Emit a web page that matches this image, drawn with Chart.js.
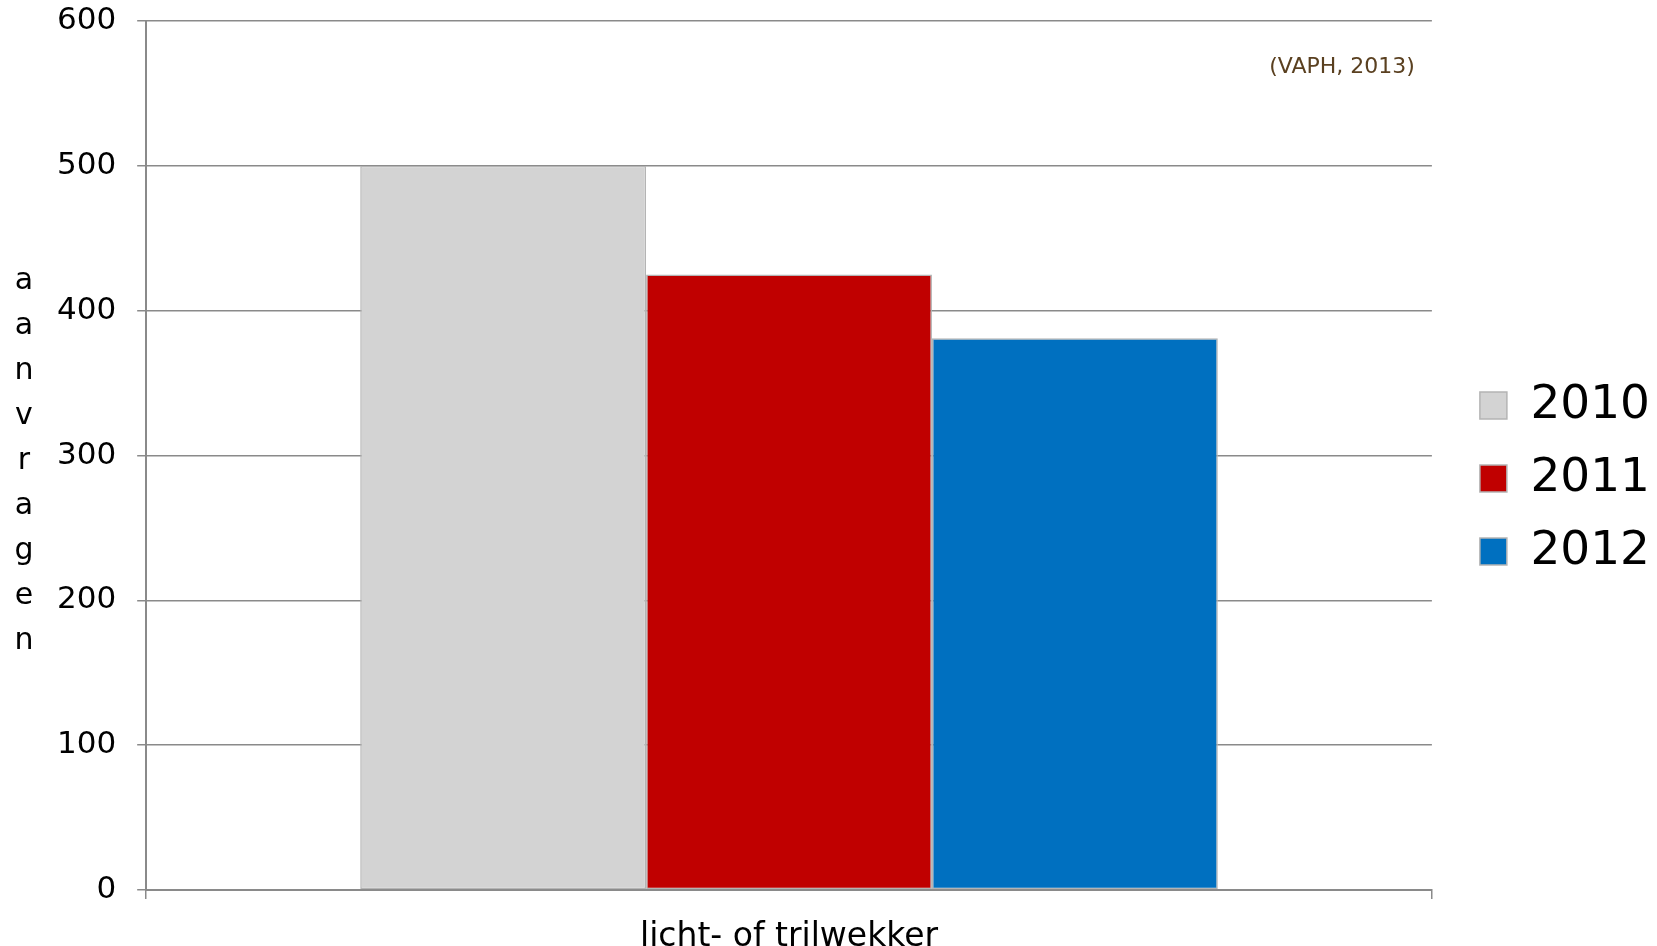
<!DOCTYPE html>
<html>
<head>
<meta charset="utf-8">
<script src="https://cdn.jsdelivr.net/npm/chart.js@4/dist/chart.umd.min.js"></script>
<style>
  html, body { margin: 0; padding: 0; background: #fff; }
  #wrap { width: 1657px; height: 946px; }
</style>
</head>
<body>
<div id="wrap"><canvas id="myChart" width="1657" height="946"></canvas></div>
<script>
const categories = ["licht- of trilwekker"];
const years = ["2010", "2011", "2012"];
const values2010 = [500];
const values2011 = [425];
const values2012 = [381];
const yTicks = [0, 100, 200, 300, 400, 500, 600];
const yTitle = "aanvragen";
const sourceNote = "(VAPH, 2013)";

const ctx = document.getElementById("myChart").getContext("2d");
const FONT = "'DejaVu Sans', Verdana, sans-serif";
const gridGray = "#8a8a8a";

// vertical y title and source note
const extraText = {
  id: "extraText",
  afterLayout(chart) {
    // nudge the legend to where the original has it
    chart.legend.left += 22;
    chart.legend.right += 22;
    chart.legend.top -= 5;
    chart.legend.bottom -= 5;
  },
  afterDraw(chart) {
    const c = chart.ctx;
    c.save();
    c.fillStyle = "#000";
    c.font = "30px " + FONT;
    c.textAlign = "center";
    c.textBaseline = "middle";
    const letters = yTitle.split("");
    letters.forEach((ch, i) => {
      c.fillText(ch, 24, 281 + i * 45);
    });
    c.fillStyle = "#5a4020";
    c.font = "22px " + FONT;
    c.textAlign = "right";
    c.fillText(sourceNote, chart.chartArea.right - 17, 67);
    c.restore();
  },
};

const data = {
  labels: categories,
  datasets: [
    { label: years[0], data: values2010, backgroundColor: "#d3d3d3" },
    { label: years[1], data: values2011, backgroundColor: "#c00000" },
    { label: years[2], data: values2012, backgroundColor: "#0070c0" },
  ].map((d) => ({
    ...d,
    borderColor: "#b4b4b4",
    borderWidth: 1.5,
    borderSkipped: false,
    categoryPercentage: 0.667,
    barPercentage: 1,
  })),
};

const config = {
  type: "bar",
  data: data,
  options: {
    responsive: false,
    animation: false,
    layout: {
      padding: { left: 36, top: 21, right: 19, bottom: 0 },
    },
    plugins: {
      legend: {
        position: "right",
        labels: {
          color: "#000",
          font: { family: FONT, size: 47 },
          boxWidth: 27,
          boxHeight: 27,
          padding: 26,
        },
      },
      tooltip: { enabled: false },
    },
    scales: {
      x: {
        grid: {
          drawOnChartArea: false,
          drawTicks: true,
          tickLength: 9,
          color: gridGray,
          lineWidth: 1.5,
        },
        border: { color: gridGray, width: 2 },
        ticks: {
          color: "#000",
          font: { family: FONT, size: 33 },
          padding: 19,
        },
        afterFit(scale) {
          scale.height = 56;
        },
      },
      y: {
        min: yTicks[0],
        max: yTicks[yTicks.length - 1],
        grid: {
          color: gridGray,
          lineWidth: 1.5,
          tickLength: 9,
        },
        border: { color: gridGray, width: 2 },
        ticks: {
          stepSize: 100,
          color: "#000",
          font: { family: FONT, size: 31 },
          padding: 21,
        },
        afterFit(scale) {
          // tick padding should not push the plot down
          scale.paddingTop = 0;
          scale.paddingBottom = 0;
        },
      },
    },
  },
  plugins: [extraText],
};

const myChart = new Chart(ctx, config);
</script>
</body>
</html>
